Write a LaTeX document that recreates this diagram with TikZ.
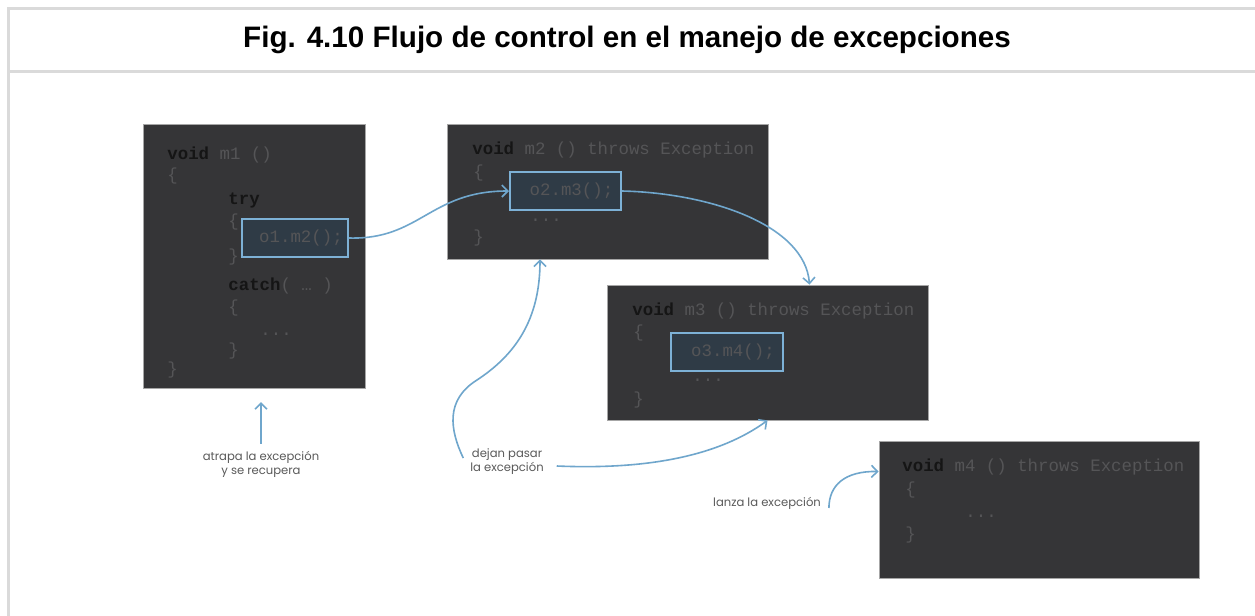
\documentclass[tikz,border=0pt]{standalone}
\usepackage{fontspec}
\setmainfont{Liberation Sans}
\newfontfamily\codefont{Liberation Mono}
\newfontfamily\notefont{Poppins}
\usetikzlibrary{arrows.meta}
\definecolor{boxgray}{HTML}{353537}
\definecolor{callfill}{HTML}{2F3B46}
\definecolor{callblue}{HTML}{7DB1D6}
\definecolor{flowblue}{HTML}{6FA6CC}
\definecolor{framegray}{HTML}{DADADA}
\definecolor{codegray}{HTML}{555557}
\definecolor{kwblack}{HTML}{151515}
\definecolor{notegray}{HTML}{5A5A5A}
\newcommand{\kw}[1]{\textbf{\color{kwblack}#1}}
\newcommand{\codedots}{...}

\begin{document}
\begin{tikzpicture}[>={Straight Barb[length=3pt,width=6pt]}, x=0.5pt, y=-0.5pt,
  method/.style={draw=gray!70, line width=0.4pt, fill=boxgray, inner sep=0pt},
  call/.style={draw=callblue, line width=1pt, fill=callfill, inner sep=0pt,
    minimum height=19pt, font=\codefont\fontsize{8.7}{10}\selectfont, text=codegray},
  code/.style={anchor=base west, inner sep=0pt,
    font=\codefont\fontsize{8.7}{10}\selectfont, text=codegray},
  note/.style={align=center, font=\notefont\fontsize{5.8}{7}\selectfont, text=notegray},
  flow/.style={->, flowblue, line width=0.8pt}]
  \useasboundingbox (0,0) rectangle (1255,616);
  \fill[white] (0,0) rectangle (1255,616);
  \clip (0,0) rectangle (1255,616);

  % frame and title
  \draw[framegray, line width=1.5pt] (8,630) -- (8,8) -- (1270,8) (8,71) -- (1270,71);
  \node[font=\bfseries\fontsize{14.8}{17}\selectfont] (title) at (627,40)
    {Fig. 4.10 Flujo de control en el manejo de excepciones};

  % methods
  \node[method, minimum width=111pt, minimum height=132pt] (m1) at (254,256) {};
  \node[method, minimum width=160.5pt, minimum height=67.5pt] (m2) at (607.5,191.5) {};
  \node[method, minimum width=160.5pt, minimum height=67.5pt] (m3) at (767.5,352.5) {};
  \node[method, minimum width=160pt, minimum height=68.5pt] (m4) at (1039,509.5) {};

  % code lines
  \foreach \n/\x/\y/\t in {1/167/159/{\kw{void} m1 ()}, 2/167/180/\{, 3/228/204/\kw{try},
      4/228/226/\{, 5/228/261/\}, 6/228/290/{\kw{catch}( … )}, 7/228/312/\{,
      8/260/335/\codedots, 9/228/355/\}, 10/167/374/\}}
    \node[code] (m1-\n) at (\x,\y) {\t};
  \foreach \n/\x/\y/\t in {1/472/154/{\kw{void} m2 () throws Exception}, 2/473/177/\{,
      3/530/221/\codedots, 4/473/242/\}}
    \node[code] (m2-\n) at (\x,\y) {\t};
  \foreach \n/\x/\y/\t in {1/632/315/{\kw{void} m3 () throws Exception}, 2/633/337/\{,
      3/692/381/\codedots, 4/633/404/\}}
    \node[code] (m3-\n) at (\x,\y) {\t};
  \foreach \n/\x/\y/\t in {1/902/471/{\kw{void} m4 () throws Exception}, 2/905/494/\{,
      3/965/517/\codedots, 4/905/539/\}}
    \node[code] (m4-\n) at (\x,\y) {\t};

  % calls
  \node[call, minimum width=53pt] (c1) at (295,238) {\hspace*{6pt}o1.m2();};
  \node[call, minimum width=55.5pt] (c2) at (565.5,191) {\hspace*{6pt}o2.m3();};
  \node[call, minimum width=56pt] (c3) at (727,352) {\hspace*{6pt}o3.m4();};

  % notes
  \node[note] (catchnote) at (261,464) {atrapa la excepción\\y se recupera};
  \node[note] (passnote) at (507,462) {dejan pasar\\la excepción};
  \node[note] (thrownote) at (767,503) {lanza la excepción};

  % control flow
  \coordinate (m1in) at (261,402);
  \draw[flow] (catchnote.north) -- (m1in);
  \draw[flow] (c1.east) .. controls (420,240) and (430,191) .. (c2.west);
  \draw[flow] (c2.east) .. controls (710,193) and (805,225) .. ([xshift=21pt]m3.north);
  \draw[flow] ([yshift=2pt]passnote.west) .. controls (450,430) and (445,400) .. (477,380)
    .. controls (515,355) and (540,320) .. ([xshift=-33.75pt]m2.south);
  \draw[flow] ([xshift=3pt,yshift=-2pt]passnote.east) .. controls (650,470) and (720,455) .. (m3.south);
  \draw[flow] ([xshift=0.5pt,yshift=-2.5pt]thrownote.east) .. controls (829,485) and (845,471)
    .. ([yshift=19pt]m4.west);
\end{tikzpicture}
\end{document}
